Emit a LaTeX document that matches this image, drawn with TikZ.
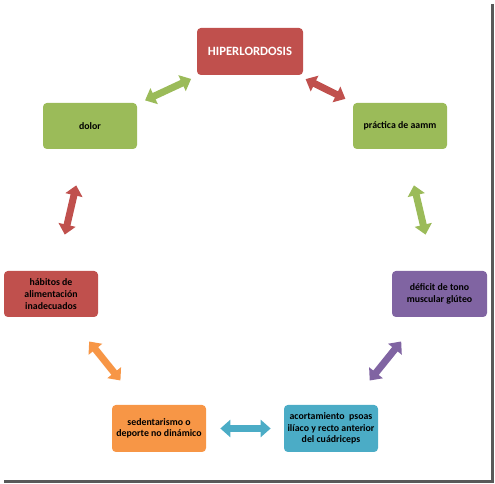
\documentclass[tikz,border=0pt]{standalone}
\usepackage{fontspec}
\setmainfont{Carlito}
\usepackage{tikz}
\usetikzlibrary{arrows.meta,positioning}

\definecolor{boxred}{HTML}{C0504D}
\definecolor{boxgreen}{HTML}{9BBB59}
\definecolor{boxpurple}{HTML}{8064A2}
\definecolor{boxorange}{HTML}{F79646}
\definecolor{boxblue}{HTML}{4BACC6}

\begin{document}
\begin{tikzpicture}[
    node font=\bfseries,
    cause box/.style={rectangle, rounded corners=2.2pt, draw=none, minimum width=1.88cm,
        minimum height=0.92cm, inner sep=1pt, align=center, text=black,
        font=\fontsize{5.6}{6.6}\selectfont\bfseries},
    cycle arrow/.style={line width=0.14cm,
        {Triangle[length=0.2cm, width=0.34cm]}-{Triangle[length=0.2cm, width=0.34cm]}},
]
\useasboundingbox (0,0) rectangle (9.9,9.68);

% frame shadow
\draw[line width=0.06cm, black!65] (9.84,9.6) -- (9.84,0.04) -- (0.08,0.04);

% === Boxes ===
\node[cause box, fill=boxred, minimum width=2.12cm, minimum height=0.94cm, text=white,
    font=\fontsize{7.2}{8}\selectfont\bfseries] (hiper) at (5.0,8.65) {HIPERLORDOSIS};
\node[cause box, fill=boxgreen] (practica) at (8.0,7.16) {práctica de aamm};
\node[cause box, fill=boxpurple, minimum width=1.9cm] (deficit) at (8.79,3.8) {déficit de tono\\muscular glúteo};
\node[cause box, fill=boxblue, minimum height=0.94cm] (acort) at (6.62,1.11) {acortamiento\ \ psoas\\ilíaco y recto anterior\\del cuádriceps};
\node[cause box, fill=boxorange, minimum height=0.94cm] (sedent) at (3.18,1.11) {sedentarismo o\\deporte no dinámico};
\node[cause box, fill=boxred] (habitos) at (1.02,3.8) {hábitos de\\alimentación\\inadecuados};
\node[cause box, fill=boxgreen] (dolor) at (1.8,7.16) {dolor};

% === Double arrows ===
\draw[cycle arrow, boxgreen, shorten <=0.17cm, shorten >=0.17cm] (dolor) -- (hiper);
\draw[cycle arrow, boxred, shorten <=0.17cm, shorten >=0.17cm] (hiper) -- (practica);
\draw[cycle arrow, boxgreen, shorten <=0.74cm, shorten >=0.74cm] (practica) -- (deficit);
\draw[cycle arrow, boxpurple, shorten <=0.62cm, shorten >=0.62cm] (deficit) -- (acort);
\draw[cycle arrow, boxblue, shorten <=0.26cm, shorten >=0.28cm] (acort) -- (sedent);
\draw[cycle arrow, boxorange, shorten <=0.62cm, shorten >=0.62cm] (sedent) -- (habitos);
\draw[cycle arrow, boxred, shorten <=0.74cm, shorten >=0.74cm] (habitos) -- (dolor);

\end{tikzpicture}
\end{document}
